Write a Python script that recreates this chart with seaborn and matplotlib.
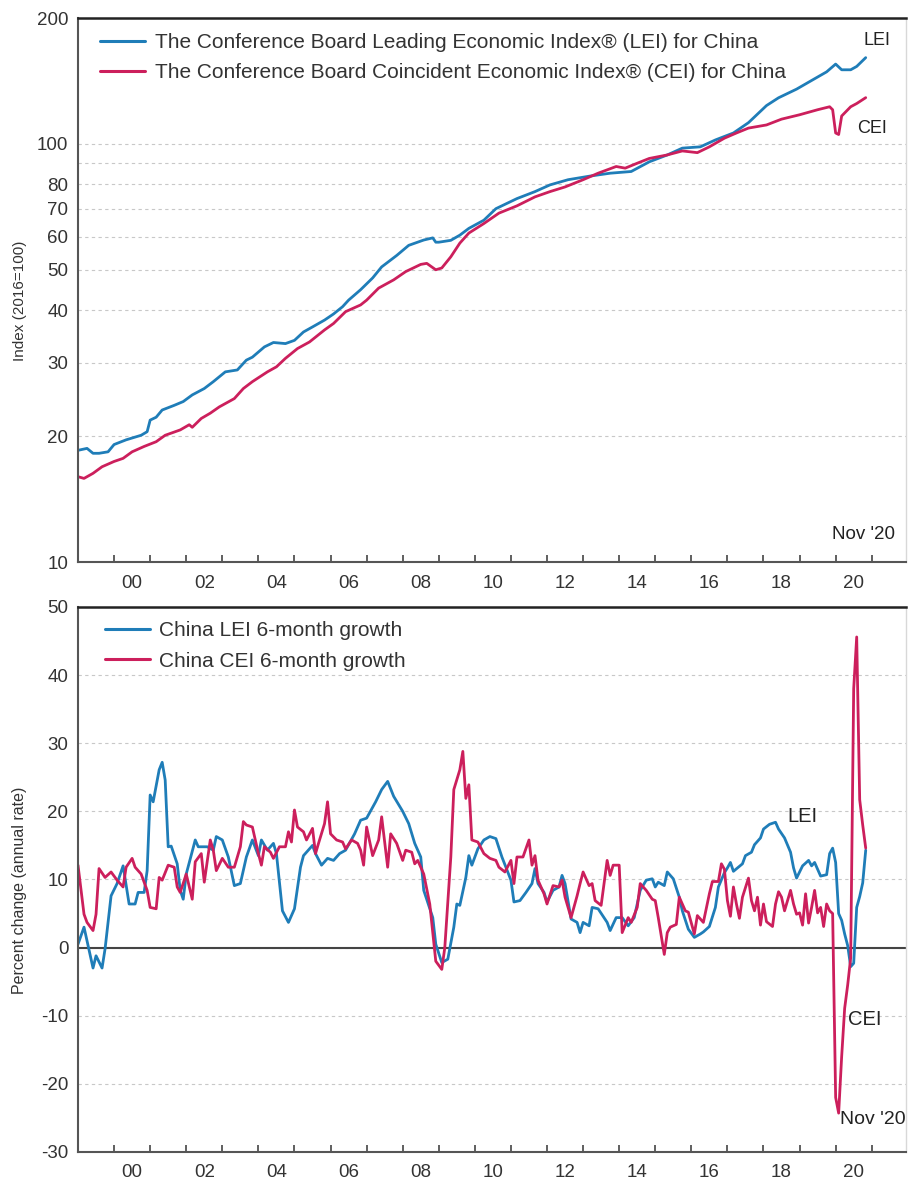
import numpy as np
import pandas as pd
import seaborn as sns
import matplotlib
matplotlib.use("Agg")
import matplotlib.pyplot as plt
from matplotlib.ticker import NullLocator

# month offsets are counted from Jan 1999 (0) to Nov 2020 (262)

# Top panel: index levels (2016=100)
lei_idx_month = [0, 3, 5, 7, 10, 12, 16, 21, 23, 24, 26, 28, 32, 35, 38, 42, 45, 49, 53, 56,
                 58, 62, 65, 69, 72, 75, 78, 82, 85, 88, 90, 94, 98, 101, 106, 110, 115, 118, 119, 120,
                 124, 127, 130, 135, 139, 146, 152, 157, 163, 170, 177, 184, 190, 196, 201, 207, 212, 218, 223, 229,
                 233, 239, 244, 249, 252, 254, 257, 259, 262]
lei_idx = [18.5, 18.7, 18.2, 18.2, 18.35, 19.1, 19.6, 20.1, 20.5, 21.85, 22.2, 23.1, 23.7, 24.2, 25.1, 26.0, 27.0, 28.5, 28.8, 30.4,
           30.9, 32.7, 33.5, 33.3, 33.9, 35.5, 36.5, 37.9, 39.2, 40.8, 42.3, 44.8, 47.8, 50.8, 54.1, 57.2, 58.9, 59.6, 58.2, 58.2,
           58.8, 60.5, 62.8, 65.7, 70.0, 74.0, 76.9, 79.8, 82.1, 83.7, 85.1, 85.9, 90.6, 94.1, 97.7, 98.4, 102.2, 106.2, 112.4, 123.5,
           128.9, 135.2, 141.8, 148.7, 155.2, 150.4, 150.4, 153.2, 160.8]

cei_idx_month = [0, 2, 5, 8, 12, 15, 18, 22, 26, 29, 34, 37, 38, 41, 44, 47, 52, 55, 58, 63,
                 66, 69, 73, 77, 82, 85, 89, 94, 96, 100, 105, 109, 114, 116, 119, 121, 124, 127, 130, 135,
                 140, 146, 152, 157, 162, 168, 173, 179, 182, 186, 190, 196, 201, 206, 210, 215, 219, 223, 229, 234,
                 240, 246, 250, 251, 252, 253, 254, 257, 259, 262]
cei_idx = [16.0, 15.85, 16.3, 16.9, 17.4, 17.7, 18.35, 18.9, 19.4, 20.1, 20.7, 21.3, 21.0, 22.05, 22.7, 23.5, 24.6, 26.0, 27.0, 28.5,
           29.3, 30.7, 32.4, 33.6, 35.9, 37.2, 39.7, 41.2, 42.3, 45.2, 47.3, 49.5, 51.5, 51.8, 50.0, 50.5, 53.7, 57.9, 61.2, 64.5,
           68.3, 71.1, 74.7, 76.9, 78.9, 82.1, 85.1, 88.3, 87.5, 89.9, 92.3, 94.1, 96.2, 95.3, 98.4, 103.2, 106.2, 109.1, 111.0, 114.6,
           117.4, 120.7, 122.7, 120.7, 106.2, 105.3, 116.6, 122.7, 124.9, 129.0]

# Bottom panel: 6-month growth, annual rate
lei_gr_month = [0, 2, 4, 5, 6, 8, 9, 11, 13, 15, 17, 19, 20, 22, 23, 24, 25, 27, 28, 29,
                30, 31, 33, 34, 35, 36, 39, 40, 43, 45, 46, 48, 50, 52, 54, 56, 58, 60, 61, 63,
                65, 66, 68, 70, 72, 74, 75, 78, 79, 81, 83, 85, 87, 89, 92, 94, 96, 99, 101, 103,
                105, 108, 110, 112, 114, 115, 118, 119, 121, 123, 125, 126, 127, 129, 130, 131, 133, 135, 137, 139,
                141, 144, 145, 147, 149, 151, 152, 153, 155, 156, 158, 160, 161, 162, 164, 166, 167, 168, 170, 171,
                173, 176, 177, 179, 181, 183, 185, 187, 189, 191, 192, 193, 195, 196, 198, 200, 201, 203, 205, 207,
                208, 210, 212, 213, 215, 216, 217, 218, 221, 222, 224, 225, 227, 228, 230, 232, 233, 235, 237, 238,
                239, 241, 243, 244, 245, 247, 249, 250, 251, 252, 253, 254, 255, 256, 257, 258, 259, 260, 261, 262]
lei_gr = [0.5, 3.0, -1.0, -3.0, -1.2, -3.0, -0.2, 7.6, 9.4, 12.0, 6.4, 6.4, 8.1, 8.1, 11.3, 22.4, 21.4, 26.1, 27.2, 24.6,
          14.8, 14.9, 12.3, 8.4, 7.1, 10.8, 15.8, 14.8, 14.8, 14.3, 16.3, 15.8, 13.3, 9.1, 9.4, 13.3, 15.8, 13.5, 15.8, 14.3,
          15.3, 13.8, 5.4, 3.7, 5.7, 11.8, 13.5, 15.0, 13.8, 12.1, 13.1, 12.8, 13.8, 14.3, 16.7, 18.7, 19.0, 21.4, 23.2, 24.4,
          22.2, 20.0, 18.2, 15.3, 13.3, 8.4, 4.4, 0.5, -2.2, -1.7, 3.0, 6.4, 6.2, 10.3, 13.5, 12.1, 14.5, 15.8, 16.3, 16.0,
          13.3, 9.9, 6.7, 6.9, 8.1, 9.4, 11.6, 9.4, 8.1, 6.7, 8.4, 8.9, 10.6, 9.4, 4.2, 3.7, 2.2, 3.7, 3.2, 5.9,
          5.7, 3.7, 2.5, 4.4, 4.4, 3.2, 4.4, 8.4, 9.9, 10.1, 8.9, 9.6, 9.1, 11.1, 10.1, 7.4, 5.4, 2.7, 1.5, 2.0,
          2.3, 3.1, 5.9, 8.9, 11.0, 11.7, 12.5, 11.2, 12.3, 13.5, 14.0, 15.1, 16.1, 17.4, 18.1, 18.4, 17.4, 16.1, 14.0, 11.7,
          10.2, 12.0, 12.8, 12.0, 12.5, 10.5, 10.7, 13.8, 14.6, 12.5, 5.0, 4.0, 2.0, 0.3, -2.8, -2.3, 5.9, 7.5, 9.5, 14.3]

cei_gr_month = [0, 2, 3, 5, 6, 7, 9, 11, 13, 15, 16, 18, 19, 21, 23, 24, 26, 27, 28, 30,
                32, 33, 34, 36, 38, 39, 41, 42, 44, 45, 46, 48, 50, 52, 54, 55, 56, 58, 60, 61,
                62, 64, 65, 67, 69, 70, 71, 72, 73, 75, 76, 78, 79, 80, 82, 83, 84, 86, 88, 89,
                91, 93, 94, 95, 96, 98, 100, 101, 103, 104, 106, 108, 109, 111, 112, 113, 115, 117, 119, 121,
                122, 124, 125, 127, 128, 129, 130, 131, 133, 135, 137, 139, 140, 142, 144, 145, 146, 148, 150, 151,
                152, 153, 155, 156, 158, 160, 161, 162, 164, 166, 167, 168, 170, 171, 172, 174, 176, 177, 178, 180,
                181, 183, 184, 186, 187, 189, 191, 192, 193, 195, 196, 197, 199, 200, 202, 203, 205, 206, 208, 210,
                211, 213, 214, 215, 216, 217, 218, 219, 220, 221, 223, 224, 225, 226, 227, 228, 229, 231, 232, 233,
                234, 235, 237, 238, 239, 240, 241, 242, 243, 244, 245, 246, 247, 248, 249, 250, 251, 252, 253, 254,
                255, 256, 257, 258, 259, 260, 261, 262]
cei_gr = [12.1, 4.9, 3.7, 2.5, 4.9, 11.6, 10.3, 11.1, 9.9, 8.9, 11.8, 13.1, 11.8, 10.8, 8.4, 5.9, 5.7, 10.3, 9.9, 12.1,
          11.8, 8.9, 8.1, 10.8, 7.1, 12.6, 13.8, 9.6, 15.8, 14.3, 11.3, 13.1, 11.8, 11.8, 14.8, 18.5, 18.0, 17.7, 13.8, 12.1,
          14.8, 14.0, 13.1, 14.8, 14.8, 17.0, 15.5, 20.2, 17.7, 17.0, 15.8, 17.5, 13.8, 15.3, 18.2, 21.4, 16.7, 15.8, 15.5, 14.5,
          15.8, 15.3, 14.3, 12.1, 17.7, 13.5, 15.8, 19.2, 11.8, 16.7, 15.3, 12.8, 14.3, 14.0, 12.3, 12.8, 10.8, 6.4, -2.0, -3.2,
          0.0, 13.3, 23.2, 26.1, 28.8, 21.9, 23.9, 15.8, 15.5, 13.8, 13.1, 12.8, 11.8, 11.1, 12.8, 9.4, 13.3, 13.3, 15.8, 12.1,
          13.5, 9.9, 7.9, 6.4, 9.1, 8.9, 9.9, 7.4, 4.4, 7.6, 9.4, 11.1, 9.1, 9.4, 6.9, 6.2, 12.8, 10.6, 12.1, 12.1,
          2.2, 4.4, 3.7, 5.9, 9.4, 8.4, 7.1, 6.9, 4.4, -1.0, 2.2, 3.0, 3.4, 7.4, 5.4, 5.2, 2.0, 4.7, 3.7, 7.9,
          9.7, 9.7, 12.3, 11.5, 6.9, 4.6, 8.9, 6.4, 4.3, 7.4, 10.2, 6.9, 5.4, 7.4, 3.3, 6.4, 3.8, 3.1, 6.4, 8.2,
          7.4, 5.4, 8.4, 6.4, 4.9, 5.1, 3.3, 7.9, 3.6, 5.9, 8.4, 5.1, 5.9, 3.1, 6.4, 5.4, 5.0, -22.0, -24.3, -16.0,
          -8.9, -5.5, -1.5, 38.0, 45.6, 21.7, 18.0, 14.6]

top_names = ["The Conference Board Leading Economic Index\u00ae (LEI) for China",
             "The Conference Board Coincident Economic Index\u00ae (CEI) for China"]
bottom_names = ["China LEI 6-month growth", "China CEI 6-month growth"]
year_labels = ["00", "02", "04", "06", "08", "10", "12", "14", "16", "18", "20"]
top_yticks = [10, 20, 30, 40, 50, 60, 70, 80, 90, 100, 200]
bottom_yticks = [-30, -20, -10, 0, 10, 20, 30, 40, 50]

BLUE = "#1f7db8"
RED = "#cc1f5c"
TXT = "#333333"


def to_frame(months, values, name):
    return pd.DataFrame({"year": 1999 + np.array(months) / 12.0,
                         "value": values, "series": name})


df_top = pd.concat([to_frame(lei_idx_month, lei_idx, top_names[0]),
                    to_frame(cei_idx_month, cei_idx, top_names[1])])
df_bot = pd.concat([to_frame(lei_gr_month, lei_gr, bottom_names[0]),
                    to_frame(cei_gr_month, cei_gr, bottom_names[1])])

sns.set_theme(style="white")
plt.rcParams["font.family"] = ["Liberation Sans", "DejaVu Sans"]

fig = plt.figure(figsize=(9.08, 11.86), dpi=100)
ax1 = fig.add_axes([0.0859, 0.5261, 0.9119, 0.4587])
ax2 = fig.add_axes([0.0859, 0.0287, 0.9119, 0.4595])

sns.lineplot(data=df_top, x="year", y="value", hue="series", hue_order=top_names,
             palette=[BLUE, RED], estimator=None, errorbar=None, linewidth=2, ax=ax1)
sns.lineplot(data=df_bot, x="year", y="value", hue="series", hue_order=bottom_names,
             palette=[BLUE, RED], estimator=None, errorbar=None, linewidth=2, ax=ax2)

# top: log scale
ax1.set_yscale("log")
ax1.set_ylim(10, 200)
ax1.set_yticks(top_yticks)
ax1.set_yticklabels([str(t) if t != 90 else "" for t in top_yticks])
ax1.yaxis.set_minor_locator(NullLocator())
ax1.set_ylabel("Index (2016=100)", fontsize=11, color=TXT)

# bottom
ax2.set_ylim(-30, 50)
ax2.set_yticks(bottom_yticks)
ax2.set_yticklabels([str(t) for t in bottom_yticks])
ax2.axhline(0, color="#444444", lw=1.5, zorder=1)
ax2.set_ylabel("Percent change (annual rate)", fontsize=11.5, color=TXT)

for ax in (ax1, ax2):
    ax.set_xlim(1999.0, 2021.95)
    ax.set_xlabel("")
    ax.set_xticks(np.arange(2000, 2022))
    ax.set_xticklabels([])
    ax.set_xticks(np.arange(2000, 2021, 2) + 0.5, minor=True)
    ax.set_xticklabels(year_labels, minor=True)
    ax.tick_params(axis="x", which="major", direction="in", length=5, width=1.2,
                   color="#444444", bottom=True)
    ax.tick_params(axis="x", which="minor", length=0, pad=9, labelsize=13.5, labelcolor=TXT)
    ax.tick_params(axis="y", length=0, pad=7, labelsize=13.5, labelcolor=TXT)
    ax.grid(axis="y", which="major", linestyle=(0, (3, 3)), color="#c8c8c8", lw=0.8)
    ax.yaxis.set_label_coords(-0.062, 0.48)
    ax.spines["top"].set(color="#222222", lw=1.8)
    ax.spines["left"].set(color="#555555", lw=1.5)
    ax.spines["bottom"].set(color="#555555", lw=1.5)
    ax.spines["right"].set(color="#d8d8d8", lw=1)

sns.move_legend(ax1, "upper left", bbox_to_anchor=(0.0266, 0.9728), frameon=False,
                title=None, fontsize=15, handlelength=2.15, handletextpad=0.5,
                labelspacing=0.55, borderpad=0, borderaxespad=0)
sns.move_legend(ax2, "upper left", bbox_to_anchor=(0.0326, 0.974), frameon=False,
                title=None, fontsize=15, handlelength=2.15, handletextpad=0.45,
                labelspacing=0.55, borderpad=0, borderaxespad=0)
for ax in (ax1, ax2):
    for t in ax.get_legend().get_texts():
        t.set_color(TXT)
    for h in ax.get_legend().legend_handles:
        h.set_linewidth(2.2)

# line labels
ax1.text(2021.14, 177, "LEI", ha="center", va="center", fontsize=13, color="#222222")
ax1.text(2021.0, 109, "CEI", ha="center", va="center", fontsize=13, color="#222222")
ax1.text(2020.78, 11.67, "Nov '20", ha="center", va="center", fontsize=13.5, color="#222222")
ax2.text(2019.09, 19.2, "LEI", ha="center", va="center", fontsize=14.5, color="#222222")
ax2.text(2020.8, -10.5, "CEI", ha="center", va="center", fontsize=14.5, color="#222222")
ax2.text(2021.02, -25.3, "Nov '20", ha="center", va="center", fontsize=14, color="#222222")

fig.savefig("out.png", dpi=100)
